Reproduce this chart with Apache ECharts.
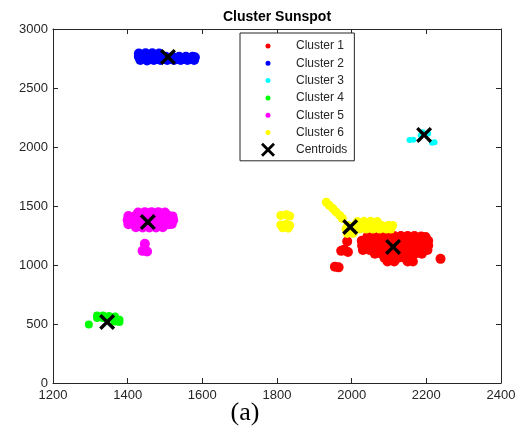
<!DOCTYPE html>
<html>
<head>
<meta charset="utf-8">
<script src="https://cdn.jsdelivr.net/npm/echarts@6/dist/echarts.min.js"></script>
<style>html,body{margin:0;padding:0;background:#fff;}#c{width:519px;height:437px;}</style>
</head>
<body>
<div id="c"></div>
<script>
const xTicks = [1200, 1400, 1600, 1800, 2000, 2200, 2400];
const yTicks = [0, 500, 1000, 1500, 2000, 2500, 3000];
const seriesNames = ['Cluster 1', 'Cluster 2', 'Cluster 3', 'Cluster 4', 'Cluster 5', 'Cluster 6', 'Centroids'];

const cluster1 = [
  [2042,1240],[2060,1242],[2078,1245],[2096,1245],[2114,1245],[2132,1245],[2150,1245],[2168,1245],[2186,1242],[2198,1238],
  [2027,1205],[2045,1205],[2063,1205],[2081,1205],[2099,1205],[2117,1205],[2135,1205],[2153,1205],[2171,1205],[2189,1205],[2205,1205],
  [2028,1165],[2046,1165],[2064,1165],[2082,1165],[2100,1165],[2118,1165],[2136,1165],[2154,1165],[2172,1165],[2190,1165],[2205,1165],
  [2030,1128],[2048,1128],[2066,1128],[2084,1128],[2102,1128],[2120,1128],[2138,1128],[2156,1128],[2174,1128],[2192,1128],[2203,1128],
  [2062,1095],[2080,1095],[2098,1095],[2116,1095],[2134,1095],[2152,1095],[2170,1095],[2188,1095],
  [2088,1060],[2106,1060],[2124,1060],[2142,1060],[2160,1060],
  [2096,1030],[2114,1030],[2150,1030],[2164,1030],
  [1972,1120],[1990,1110],[1980,1130],[1955,985],[1965,980],[1988,1200],[2238,1052]
];
const cluster2 = [
  [1430,2793],[1448,2795],[1466,2795],[1484,2793],
  [1430,2765],[1448,2765],[1466,2765],[1484,2765],[1502,2765],[1520,2765],[1538,2765],[1556,2765],[1574,2765],[1580,2760],
  [1434,2738],[1470,2738],[1488,2738],[1506,2738],[1524,2738],[1542,2738],[1560,2738],[1578,2738],
  [1452,2733]
];
const cluster3 = [
  [2155,2060],[2165,2062],[2215,2035],[2222,2040],[2185,2100],[2205,2115],[2190,2125]
];
const cluster4 = [
  [1318,572],[1334,572],[1350,568],[1366,563],
  [1318,550],[1334,550],[1350,547],[1366,542],[1378,537],
  [1365,522],[1378,518],[1296,495]
];
const cluster5 = [
  [1428,1445],[1446,1448],[1464,1448],[1482,1448],[1500,1445],
  [1402,1415],[1420,1415],[1438,1415],[1456,1415],[1474,1415],[1492,1415],[1510,1415],[1520,1412],
  [1400,1380],[1418,1380],[1436,1380],[1454,1380],[1472,1380],[1490,1380],[1508,1380],[1522,1380],
  [1402,1345],[1420,1345],[1438,1345],[1456,1345],[1474,1345],[1492,1345],[1510,1345],[1518,1348],
  [1422,1320],[1440,1318],[1458,1318],[1476,1318],[1494,1320],
  [1446,1180],[1440,1120],[1452,1115]
];
const cluster6 = [
  [1810,1420],[1825,1425],[1834,1415],
  [1810,1340],[1825,1345],[1834,1335],[1815,1315],[1830,1312],
  [1932,1532],[1940,1505],[1950,1478],[1958,1450],[1968,1420],[1975,1395],
  [2015,1368],[2033,1370],[2051,1370],[2069,1368],
  [1990,1335],[2008,1335],[2026,1335],[2044,1335],[2062,1335],[2080,1335],[2098,1335],[2110,1335],
  [1985,1305],[2003,1305],[2021,1305],[2039,1305],[2057,1305],[2075,1305],[2093,1305],[2105,1305],
  [1988,1268],[2004,1268]
];
const centroids = [
  [2111,1153],[1508,2763],[2194,2102],[1345,517],[1454,1364],[1996,1322]
];

const clusterData = [cluster1, cluster2, cluster3, cluster4, cluster5, cluster6];
const clusterColors = ['#ff0000', '#0000ff', '#00ffff', '#00ff00', '#ff00ff', '#ffff00'];
const clusterSizes = [10, 10, 6, 8, 10, 9];

const xPath = 'path://M0,1.5L1.5,0L5,3.5L8.5,0L10,1.5L6.5,5L10,8.5L8.5,10L5,6.5L1.5,10L0,8.5L3.5,5Z';
const dotIcon = 'path://M0,0h0.01v0.01z M42,14h-0.01v-0.01z M18.5,7a2.5,2.5 0 1,0 5,0a2.5,2.5 0 1,0 -5,0z';
const xIcon = 'path://M0,0h0.01v0.01z M42,14h-0.01v-0.01z M14,2L16,0L21,5L26,0L28,2L23,7L28,12L26,14L21,9L16,14L14,12L19,7Z';

const font = '"Liberation Sans", Arial, Helvetica, sans-serif';
const axisColor = '#262626';
const plainLabel = v => String(v);

const series = clusterData.map((d, i) => ({
  name: seriesNames[i],
  type: 'scatter',
  data: d,
  symbol: 'circle',
  symbolSize: clusterSizes[i],
  itemStyle: { color: clusterColors[i], opacity: 1 },
  emphasis: { disabled: true },
  silent: true
}));
series.push({
  name: 'Centroids',
  type: 'scatter',
  data: centroids,
  symbol: xPath,
  symbolSize: 16,
  itemStyle: { color: '#000', opacity: 1 },
  emphasis: { disabled: true },
  silent: true,
  z: 5
});

const chart = echarts.init(document.getElementById('c'), null, { renderer: 'canvas' });
chart.setOption({
  animation: false,
  backgroundColor: '#fff',
  textStyle: { fontFamily: font },
  grid: { left: 53, right: 18, top: 29, bottom: 54, containLabel: false },
  xAxis: [
    {
      type: 'value', min: xTicks[0], max: xTicks[xTicks.length - 1], interval: 200,
      axisLine: { show: true, lineStyle: { color: axisColor, width: 1 } },
      axisTick: { show: true, inside: true, length: 5, lineStyle: { color: axisColor } },
      axisLabel: { color: axisColor, fontSize: 13, margin: 6, fontFamily: font, formatter: plainLabel },
      splitLine: { show: false }
    },
    {
      type: 'value', position: 'top', min: xTicks[0], max: xTicks[xTicks.length - 1], interval: 200,
      axisLine: { show: true, onZero: false, lineStyle: { color: axisColor, width: 1 } },
      axisTick: { show: true, inside: true, length: 5, lineStyle: { color: axisColor } },
      axisLabel: { show: false },
      splitLine: { show: false }
    }
  ],
  yAxis: [
    {
      type: 'value', min: yTicks[0], max: yTicks[yTicks.length - 1], interval: 500,
      axisLine: { show: true, lineStyle: { color: axisColor, width: 1 } },
      axisTick: { show: true, inside: true, length: 5, lineStyle: { color: axisColor } },
      axisLabel: { color: axisColor, fontSize: 13, margin: 5, fontFamily: font, formatter: plainLabel },
      splitLine: { show: false }
    },
    {
      type: 'value', position: 'right', min: yTicks[0], max: yTicks[yTicks.length - 1], interval: 500,
      axisLine: { show: true, onZero: false, lineStyle: { color: axisColor, width: 1 } },
      axisTick: { show: true, inside: true, length: 5, lineStyle: { color: axisColor } },
      axisLabel: { show: false },
      splitLine: { show: false }
    }
  ],
  legend: {
    orient: 'vertical',
    left: 240,
    top: 33,
    padding: [6, 7, 4, 7],
    itemWidth: 42,
    itemHeight: 14,
    itemGap: 3.3,
    backgroundColor: '#fff',
    borderColor: axisColor,
    borderWidth: 1,
    selectedMode: false,
    textStyle: { color: '#262626', fontSize: 12, fontFamily: font, padding: [0, 0, 0, 2] },
    data: seriesNames.map((n, i) => ({ name: n, icon: i < 6 ? dotIcon : xIcon }))
  },
  graphic: [
    {
      type: 'text', x: 277, y: 17, silent: true,
      style: { text: 'Cluster Sunspot', x: 0, y: 0, align: 'center', verticalAlign: 'middle',
        font: 'bold 14px ' + font, fill: '#000' }
    },
    {
      type: 'text', x: 245, y: 413, silent: true,
      style: { text: '(a)', x: 0, y: 0, align: 'center', verticalAlign: 'middle',
        font: '26px "Liberation Serif", "Times New Roman", serif', fill: '#000' }
    }
  ],
  series: series
});
</script>
</body>
</html>
